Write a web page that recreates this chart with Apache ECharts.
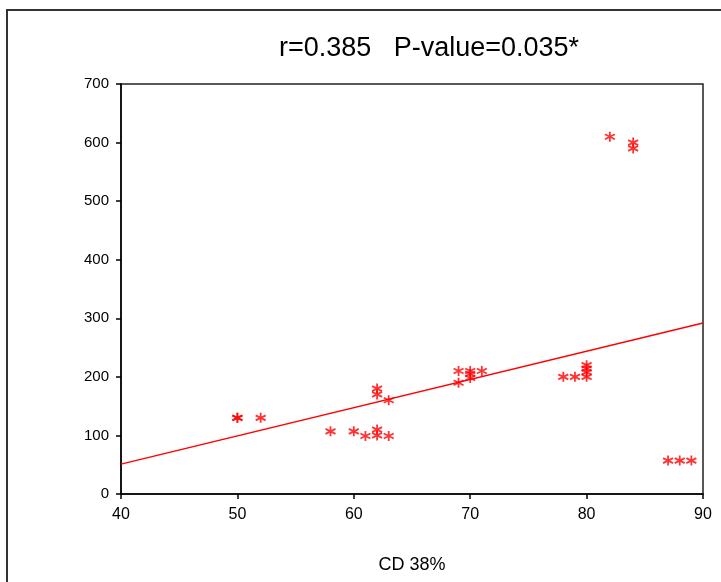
<!DOCTYPE html>
<html>
<head>
<meta charset="utf-8">
<script src="https://cdn.jsdelivr.net/npm/echarts@6/dist/echarts.min.js"></script>
<style>
  html, body { margin: 0; padding: 0; background: #fff; }
  #chart { width: 721px; height: 582px; }
</style>
</head>
<body>
<div id="chart"></div>
<script>
// CD 38% (x) 与 y 值
const CD38 = [50, 50, 52, 58, 60, 61, 62, 62, 63, 62, 62, 63, 69, 69, 70, 70, 70, 71, 78, 79, 80, 80, 80, 80, 82, 84, 84, 87, 88, 89];
const VALUES = [130, 130, 130, 107, 107, 99, 110, 100, 99, 180, 170, 160, 210, 190, 210, 205, 198, 210, 200, 200, 220, 214, 208, 200, 610, 600, 590, 57, 57, 57];
// 回归线两端
const TREND_X = [40, 90];
const TREND_Y = [51, 292];

const FONT = 'Liberation Sans, Arial, sans-serif';
const STAR = 'path://M0,-5L0,5M-4.33,-2.5L4.33,2.5M-4.33,2.5L4.33,-2.5';

let points = CD38.map((x, i) => [x, VALUES[i]]);
let trend = TREND_X.map((x, i) => [x, TREND_Y[i]]);

let myChart = echarts.init(document.getElementById('chart'));
let option = {
  animation: false,
  backgroundColor: '#fff',
  title: {
    text: 'r=0.385   P-value=0.035*',
    left: 424,
    top: 30,
    textAlign: 'center',
    textStyle: {
      fontFamily: FONT,
      fontSize: 27,
      fontWeight: 'normal',
      color: '#000'
    }
  },
  graphic: [{
    type: 'rect',
    shape: { x: 7, y: 10, width: 800, height: 700 },
    style: { fill: 'none', stroke: '#333', lineWidth: 2 },
    silent: true
  }],
  grid: {
    left: 121,
    top: 84,
    width: 582,
    height: 410,
    show: true,
    borderColor: '#222',
    borderWidth: 1.5
  },
  xAxis: {
    type: 'value',
    min: 40,
    max: 90,
    interval: 10,
    name: 'CD 38%',
    nameLocation: 'middle',
    nameGap: 62,
    nameTextStyle: { fontFamily: FONT, fontSize: 18, color: '#000' },
    axisLine: { lineStyle: { color: '#000', width: 1.5 } },
    axisTick: { length: 5, lineStyle: { color: '#000', width: 1.5 } },
    axisLabel: { fontFamily: FONT, fontSize: 16, color: '#000', margin: 13 },
    splitLine: { show: false }
  },
  yAxis: {
    type: 'value',
    min: 0,
    max: 700,
    interval: 100,
    axisLine: { show: true, lineStyle: { color: '#000', width: 1.5 } },
    axisTick: { show: true, length: 5, lineStyle: { color: '#000', width: 1.5 } },
    axisLabel: { fontFamily: FONT, fontSize: 15, color: '#000', margin: 12 },
    splitLine: { show: false }
  },
  series: [{
    type: 'scatter',
    data: points,
    symbol: STAR,
    symbolSize: 10,
    itemStyle: { color: 'none', borderColor: '#ff0000', borderWidth: 1.8 }
  }, {
    type: 'line',
    data: trend,
    symbol: 'none',
    lineStyle: { color: '#ff0000', width: 1.5 }
  }]
};
myChart.setOption(option);
</script>
</body>
</html>
